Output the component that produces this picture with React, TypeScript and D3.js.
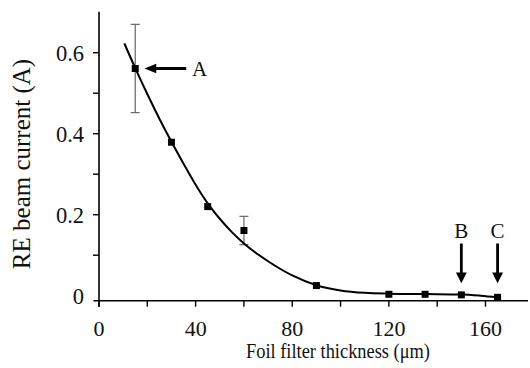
import React from "react";
import * as d3 from "d3";

// Measured beam current versus foil filter thickness
const thickness = [15, 30, 45, 60, 90, 120, 135, 150, 165];
const current = [0.561, 0.379, 0.22, 0.161, 0.025, 0.0035, 0.0035, 0.002, -0.004];
const errorHalf = [0.109, 0, 0, 0.035, 0, 0, 0, 0, 0];

// Smooth trend line through the measurements
const fitX = [10.5, 15, 20, 25, 30, 35, 40, 45, 50, 55, 60, 70, 80, 90, 100, 110, 120, 135, 150, 158, 165];
const fitY = [0.623, 0.562, 0.498, 0.437, 0.38, 0.326, 0.274, 0.228, 0.19, 0.157, 0.129, 0.085, 0.05, 0.026, 0.013, 0.007, 0.005, 0.004, 0.003, 0.0, -0.004];

const xTicks = [0, 20, 40, 60, 80, 100, 120, 140, 160];
const xTickLabels = ["0", "40", "80", "120", "160"];
const yTicks = [0.1, 0.2, 0.3, 0.4, 0.5, 0.6];
const yTickLabels = ["0", "0.2", "0.4", "0.6"];

// Annotated points: A at 15 µm, B at 150 µm, C at 165 µm
const markerLabels = ["A", "B", "C"];
const markerX = [15, 150, 165];

const W = 530;
const H = 368;
const FONT = '"Liberation Serif", "Times New Roman", serif';

export default function App() {
  const x = d3.scaleLinear().domain([0, 160]).range([99, 485.5]);
  const y = d3.scaleLinear().domain([0, 0.6]).range([295.7, 52.7]);

  const axisY = 300.7;
  const axisX = x(0);

  const line = d3
    .line<number>()
    .x((_, i) => x(fitX[i]))
    .y((d) => y(d))
    .curve(d3.curveMonotoneX);

  const sq = 7;

  // Arrow A (horizontal, pointing left toward the point)
  const aY = y(current[0]);
  const aTip = x(markerX[0]) + 9.3;
  // Arrows B and C (vertical, pointing down)
  const bcTipY = 283.3;
  const bcTopY = 243.5;

  return (
    <svg
      width={W}
      height={H}
      style={{ position: "absolute", left: 0, top: 0, background: "#fff" }}
      fontFamily={FONT}
    >
      {/* Axes */}
      <line x1={axisX} x2={axisX} y1={11.7} y2={306.7} stroke="#000" strokeWidth={1.6} />
      <line x1={93.5} x2={528} y1={axisY} y2={axisY} stroke="#000" strokeWidth={1.6} />

      {/* X ticks */}
      {xTicks.map((t) => (
        <line key={"xt" + t} x1={x(t)} x2={x(t)} y1={axisY} y2={axisY + 6} stroke="#000" strokeWidth={1.4} />
      ))}
      {xTickLabels.map((t) => (
        <text key={"xl" + t} x={x(+t)} y={335.5} fontSize={22} textAnchor="middle" fill="#111">
          {t}
        </text>
      ))}

      {/* Y ticks */}
      {yTicks.map((t) => (
        <line key={"yt" + t} x1={axisX - 6} x2={axisX} y1={y(t)} y2={y(t)} stroke="#000" strokeWidth={1.4} />
      ))}
      {yTickLabels.map((t) => (
        <text key={"yl" + t} x={84} y={y(+t) + 7.8} fontSize={22.5} textAnchor="end" fill="#111">
          {t}
        </text>
      ))}

      {/* Axis titles */}
      <text
        x={246}
        y={358}
        fontSize={21.5}
        textLength={184}
        lengthAdjust="spacingAndGlyphs"
        fill="#111"
      >
        Foil filter thickness (μm)
      </text>
      <text
        transform={`translate(30,164) rotate(-90)`}
        fontSize={25}
        textAnchor="middle"
        fill="#111"
      >
        RE beam current (A)
      </text>

      {/* Error bars */}
      {thickness.map((t, i) =>
        errorHalf[i] > 0 ? (
          <g key={"eb" + t} stroke="#666" strokeWidth={1.2}>
            <line x1={x(t)} x2={x(t)} y1={y(current[i] + errorHalf[i])} y2={y(current[i] - errorHalf[i])} />
            <line x1={x(t) - 4.5} x2={x(t) + 4.5} y1={y(current[i] + errorHalf[i])} y2={y(current[i] + errorHalf[i])} />
            <line x1={x(t) - 4.5} x2={x(t) + 4.5} y1={y(current[i] - errorHalf[i])} y2={y(current[i] - errorHalf[i])} />
          </g>
        ) : null
      )}

      {/* Trend line */}
      <path d={line(fitY) || ""} fill="none" stroke="#000" strokeWidth={2} />

      {/* Data markers */}
      {thickness.map((t, i) => (
        <rect key={"pt" + t} x={x(t) - sq / 2} y={y(current[i]) - sq / 2} width={sq} height={sq} fill="#000" />
      ))}

      {/* Annotation A */}
      <line x1={aTip + 10} x2={aTip + 41.7} y1={aY} y2={aY} stroke="#000" strokeWidth={2.8} />
      <path d={`M${aTip},${aY} L${aTip + 11.7},${aY - 4.8} L${aTip + 11.7},${aY + 4.8} Z`} fill="#000" />
      <text x={aTip + 55} y={aY + 7.3} fontSize={21} textAnchor="middle" fill="#111">
        {markerLabels[0]}
      </text>

      {/* Annotations B and C */}
      {[1, 2].map((k) => {
        const cx = x(markerX[k]);
        return (
          <g key={"arr" + k}>
            <line x1={cx} x2={cx} y1={bcTopY} y2={bcTipY - 9} stroke="#000" strokeWidth={2.8} />
            <path d={`M${cx},${bcTipY} L${cx - 5.4},${bcTipY - 10.7} L${cx + 5.4},${bcTipY - 10.7} Z`} fill="#000" />
            <text x={cx} y={238.3} fontSize={21} textAnchor="middle" fill="#111">
              {markerLabels[k]}
            </text>
          </g>
        );
      })}
    </svg>
  );
}
